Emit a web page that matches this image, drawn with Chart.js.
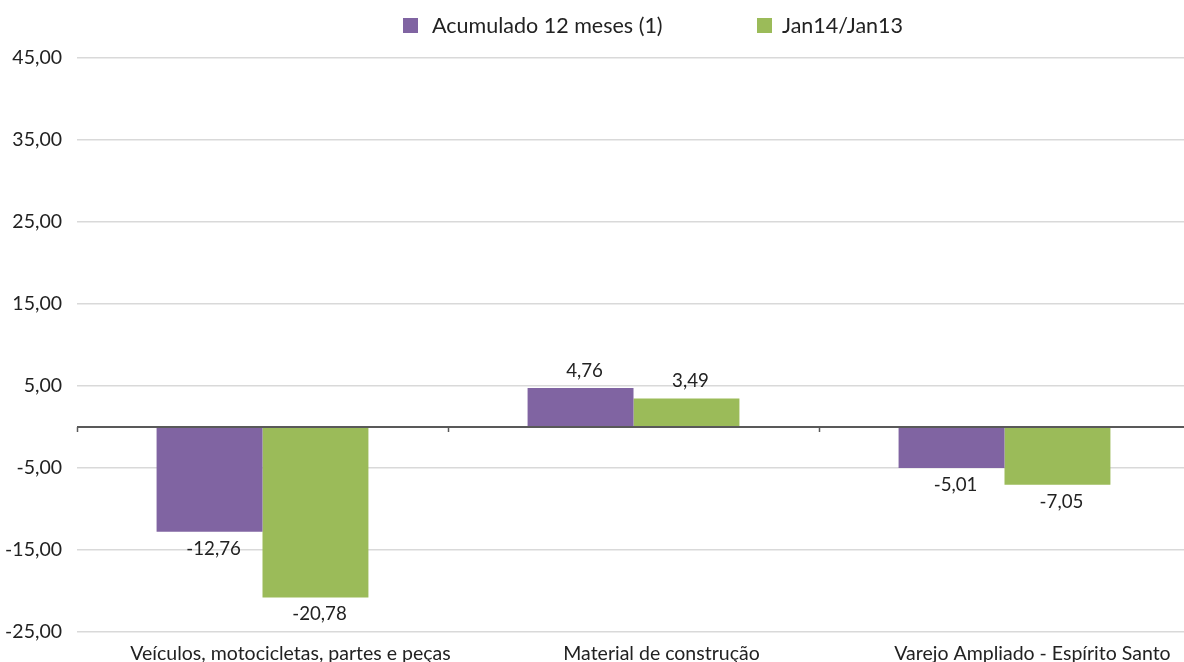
<!DOCTYPE html>
<html><head><meta charset="utf-8">
<script src="https://cdn.jsdelivr.net/npm/chart.js@4.4.1/dist/chart.umd.min.js"></script>
<style>
html,body{margin:0;padding:0;background:#fff;overflow:hidden;width:1184px;height:662px}
#wrap{position:absolute;left:0;top:0;width:1192px;height:662px}
</style></head>
<body>
<div id="wrap"><canvas id="c" width="1192" height="662"></canvas></div>
<script>
const categories = ["Veículos, motocicletas, partes e peças", "Material de construção", "Varejo Ampliado - Espírito Santo"];
const seriesNames = ["Acumulado 12 meses (1)", "Jan14/Jan13"];
const acumulado = [-12.76, 4.76, -5.01];
const jan14 = [-20.78, 3.49, -7.05];
const yTicks = [-25, -15, -5, 5, 15, 25, 35, 45];
const colors = ["#8064A2", "#9BBB59"];

const FONT = "Lato, 'Open Sans', sans-serif";
const TXT = '#222222';
const fmt = v => v.toFixed(2).replace('.', ',');

const labelPlugin = {
  id: 'extras',
  afterDatasetsDraw(chart) {
    const {ctx, chartArea, scales} = chart;
    const y0 = scales.y.getPixelForValue(0);
    ctx.save();
    ctx.strokeStyle = '#595959';
    ctx.lineWidth = 2;
    ctx.beginPath();
    ctx.moveTo(chartArea.left, y0);
    ctx.lineTo(chartArea.right, y0);
    ctx.stroke();
    const n = categories.length;
    const w = (chartArea.right - chartArea.left) / n;
    ctx.lineWidth = 1.5;
    for (let i = 0; i <= n; i++) {
      const x = Math.round(chartArea.left + i * w) + 0.5;
      ctx.beginPath();
      ctx.moveTo(x, y0);
      ctx.lineTo(x, y0 + 5);
      ctx.stroke();
    }
    // data labels
    ctx.fillStyle = TXT;
    ctx.font = '18.7px ' + FONT;
    ctx.textAlign = 'center';
    ctx.textBaseline = 'middle';
    chart.data.datasets.forEach((ds, di) => {
      const meta = chart.getDatasetMeta(di);
      meta.data.forEach((bar, i) => {
        const v = ds.data[i];
        const y = v >= 0 ? bar.y - 17 : bar.y + 17;
        ctx.fillText(fmt(v), bar.x + 4, y);
      });
    });
    // legend
    const items = [{x: 403, tx: 432}, {x: 757, tx: 782}];
    ctx.textAlign = 'left';
    ctx.font = '21.5px ' + FONT;
    chart.data.datasets.forEach((ds, di) => {
      ctx.fillStyle = ds.backgroundColor;
      ctx.fillRect(items[di].x, 18, 15, 15);
      ctx.fillStyle = TXT;
      ctx.fillText(ds.label, items[di].tx, 26);
    });
    ctx.restore();
  }
};

new Chart(document.getElementById('c'), {
  type: 'bar',
  data: {
    labels: categories,
    datasets: [
      {label: seriesNames[0], data: acumulado, backgroundColor: colors[0]},
      {label: seriesNames[1], data: jan14, backgroundColor: colors[1]}
    ]
  },
  options: {
    responsive: false,
    animation: false,
    layout: {padding: {top: 58, right: 2, left: 0, bottom: 0}},
    plugins: {legend: {display: false}, tooltip: {enabled: false}},
    datasets: {bar: {categoryPercentage: 0.571, barPercentage: 1.0}},
    scales: {
      x: {
        grid: {display: false},
        border: {display: false},
        afterFit: s => { s.height = 30; },
        ticks: {color: TXT, font: {family: FONT, size: 19.5}, maxRotation: 0, padding: 2, labelOffset: 28}
      },
      y: {
        min: -25, max: 45,
        afterBuildTicks: s => { s.ticks = yTicks.map(v => ({value: v})); },
        afterFit: s => { s.width = 77; },
        grid: {color: '#d9d9d9', lineWidth: 1.5, drawTicks: false},
        border: {display: false},
        ticks: {color: TXT, font: {family: FONT, size: 19.5}, padding: 15, callback: v => fmt(v)}
      }
    }
  },
  plugins: [labelPlugin]
});
</script>
</body></html>
